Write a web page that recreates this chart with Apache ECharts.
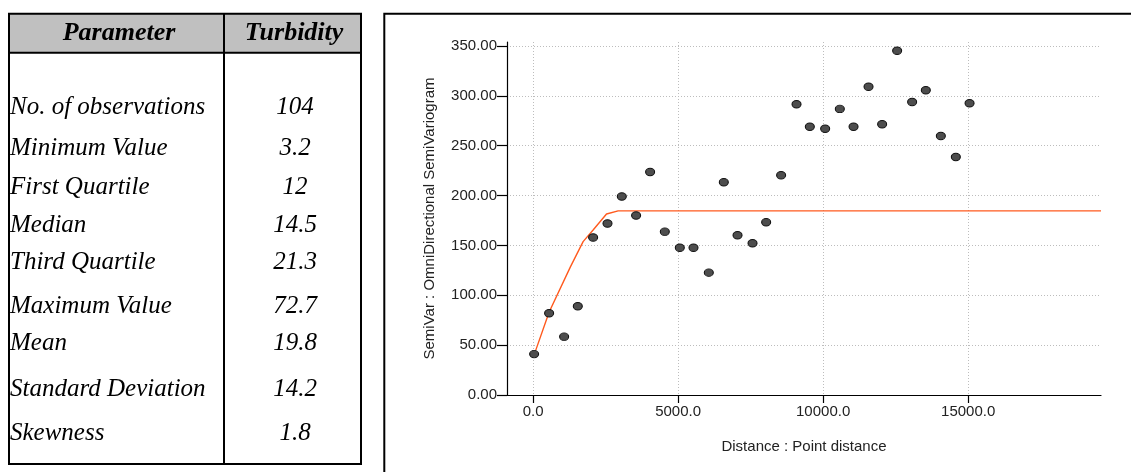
<!DOCTYPE html>
<html>
<head>
<meta charset="utf-8">
<script src="https://cdn.jsdelivr.net/npm/echarts@6/dist/echarts.min.js"></script>
<style>
  html, body { margin: 0; padding: 0; background: #fff; }
  #chart { width: 1131px; height: 472px; }
</style>
</head>
<body>
<div id="chart"></div>
<script>
// Summary statistics shown in the table
var tableHeader = ['Parameter', 'Turbidity'];
var statNames = ['No. of observations', 'Minimum Value', 'First Quartile', 'Median',
  'Third Quartile', 'Maximum Value', 'Mean', 'Standard Deviation', 'Skewness'];
var statValues = ['104', '3.2', '12', '14.5', '21.3', '72.7', '19.8', '14.2', '1.8'];

// Experimental semivariogram: lag distance and semivariance
var lagDistance = [35, 552, 1069, 1541, 2069, 2565, 3058, 3551, 4034, 4541, 5058, 5530,
  6058, 6575, 7048, 7565, 8035, 8551, 9082, 9541, 10069, 10575, 11048, 11565,
  12034, 12551, 13068, 13540, 14058, 14575, 15048];
var semiVariance = [41, 82, 58.5, 89, 158, 172, 199, 180, 223.6, 163.8, 147.7, 147.7,
  122.7, 213.3, 160.2, 152.2, 173.2, 220.4, 291.6, 269, 267, 286.9, 269, 309.2,
  271.5, 345.3, 293.9, 305.6, 259.8, 238.7, 292.6];

// Fitted model curve
var modelDistance = [93, 550, 1290, 1724, 2069, 2531, 2931, 19580];
var modelValue = [45, 83, 128.7, 153.8, 165.5, 181.5, 184.6, 184.6];

// Axis tick values
var xTicks = [0, 5000, 10000, 15000];
var yTicks = [0, 50, 100, 150, 200, 250, 300, 350];

// Table layout (pixel positions of the text rows)
var tbl = { left: 9, right: 361, top: 13.7, bottom: 464, split: 224, headBottom: 52.7 };
var rowMiddles = [107, 148.5, 187, 225.5, 262.5, 306, 343.5, 389.5, 433];

var serif = '"Liberation Serif", "Times New Roman", serif';
var sans = '"Liberation Sans", Arial, sans-serif';

var graphics = [];
// header background
graphics.push({
  type: 'rect', silent: true, z: 1,
  shape: { x: tbl.left, y: tbl.top, width: tbl.right - tbl.left, height: tbl.headBottom - tbl.top },
  style: { fill: '#c0c0c0' }
});
// table borders
graphics.push({
  type: 'rect', silent: true, z: 3,
  shape: { x: tbl.left, y: tbl.top, width: tbl.right - tbl.left, height: tbl.bottom - tbl.top },
  style: { fill: 'none', stroke: '#000', lineWidth: 2 }
});
graphics.push({
  type: 'line', silent: true, z: 3,
  shape: { x1: tbl.split, y1: tbl.top, x2: tbl.split, y2: tbl.bottom },
  style: { stroke: '#000', lineWidth: 2 }
});
graphics.push({
  type: 'line', silent: true, z: 3,
  shape: { x1: tbl.left, y1: tbl.headBottom, x2: tbl.right, y2: tbl.headBottom },
  style: { stroke: '#000', lineWidth: 2 }
});
// header text
graphics.push({
  type: 'text', silent: true, z: 4,
  style: { text: tableHeader[0], x: 119, y: 33, textAlign: 'center', textVerticalAlign: 'middle',
    font: 'italic bold 26px ' + serif, fill: '#000' }
});
graphics.push({
  type: 'text', silent: true, z: 4,
  style: { text: tableHeader[1], x: 294, y: 33, textAlign: 'center', textVerticalAlign: 'middle',
    font: 'italic bold 26px ' + serif, fill: '#000' }
});
// body rows
statNames.forEach(function (name, i) {
  graphics.push({
    type: 'text', silent: true, z: 4,
    style: { text: name, x: 10, y: rowMiddles[i], textAlign: 'left', textVerticalAlign: 'middle',
      font: 'italic 25px ' + serif, fill: '#000' }
  });
  graphics.push({
    type: 'text', silent: true, z: 4,
    style: { text: statValues[i], x: 295, y: rowMiddles[i], textAlign: 'center', textVerticalAlign: 'middle',
      font: 'italic 25px ' + serif, fill: '#000' }
  });
});
// frame around the semivariogram panel
graphics.push({
  type: 'rect', silent: true, z: 3,
  shape: { x: 384.3, y: 13.7, width: 900, height: 600 },
  style: { fill: 'none', stroke: '#000', lineWidth: 2 }
});

var gridLine = { show: true, lineStyle: { color: '#bdbdbd', width: 1, type: [1, 2] } };

var chart = echarts.init(document.getElementById('chart'), null, { renderer: 'canvas' });
chart.setOption({
  animation: false,
  backgroundColor: '#fff',
  graphic: graphics,
  grid: { left: 507, right: 30, top: 42, bottom: 77, containLabel: false },
  xAxis: {
    type: 'value', min: -900, max: 19580,
    name: 'Distance : Point distance', nameLocation: 'middle', nameGap: 44,
    nameTextStyle: { fontFamily: sans, fontSize: 15, color: '#222' },
    axisLine: { show: true, onZero: false, lineStyle: { color: '#000', width: 1.2 } },
    axisTick: { show: true, length: 8, customValues: xTicks, lineStyle: { color: '#000', width: 1.2 } },
    axisLabel: { customValues: xTicks, margin: 9, fontFamily: sans, fontSize: 15, color: '#222',
      formatter: function (v) { return v.toFixed(1); } },
    splitLine: gridLine
  },
  yAxis: {
    type: 'value', min: 0, max: 354,
    name: 'SemiVar : OmniDirectional SemiVariogram', nameLocation: 'middle', nameGap: 70, nameRotate: 90,
    nameTextStyle: { fontFamily: sans, fontSize: 15, color: '#222' },
    axisLine: { show: true, onZero: false, lineStyle: { color: '#000', width: 1.2 } },
    axisTick: { show: true, length: 10, customValues: yTicks, lineStyle: { color: '#000', width: 1.2 } },
    axisLabel: { customValues: yTicks, margin: 10, fontFamily: sans, fontSize: 15, color: '#222',
      formatter: function (v) { return v.toFixed(2); } },
    splitLine: gridLine
  },
  series: [
    {
      type: 'line', name: 'model',
      data: modelDistance.map(function (d, i) { return [d, modelValue[i]]; }),
      showSymbol: false, smooth: false, z: 2,
      lineStyle: { color: '#ff5a1e', width: 1.4 }
    },
    {
      type: 'scatter', name: 'semivariance',
      data: lagDistance.map(function (d, i) { return [d, semiVariance[i]]; }),
      symbol: 'circle', symbolSize: [9, 7.5], z: 3,
      itemStyle: { color: '#4d4d4d', borderColor: '#111', borderWidth: 1, opacity: 1 }
    }
  ]
});
</script>
</body>
</html>
